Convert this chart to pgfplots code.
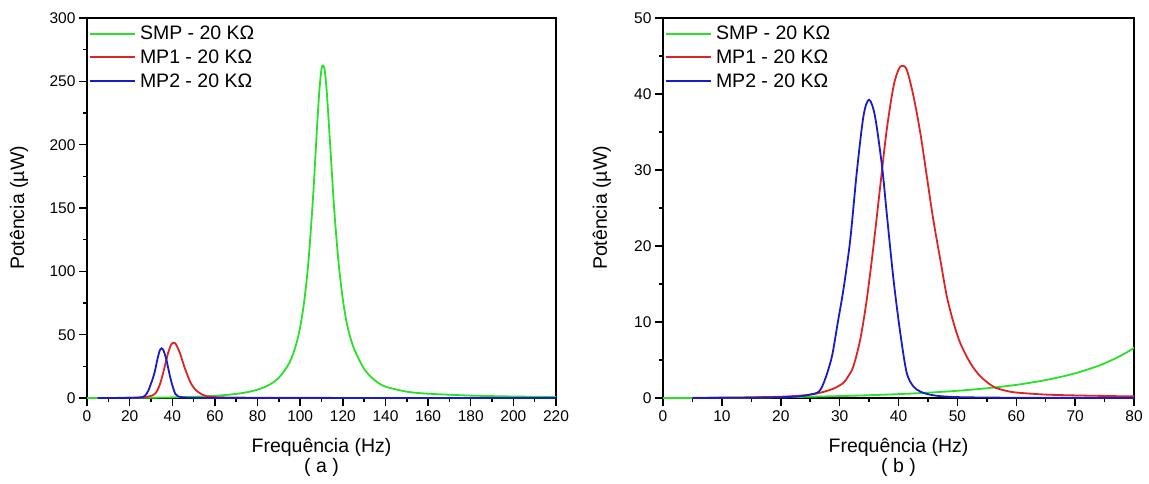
\documentclass[border=0pt]{standalone}
\usepackage{fontspec}
\setmainfont{Liberation Sans}
\usepackage{pgfplots}
\usepackage{pgfplotstable}
\pgfplotsset{compat=1.18}
\definecolor{cgreen}{RGB}{40,225,40}
\definecolor{cred}{RGB}{222,35,35}
\definecolor{cblue}{RGB}{25,25,205}

\pgfplotstableread{
f p
0 0
5 0.006
10 0.025
15 0.056
20 0.103
25 0.168
30 0.253
35 0.365
40 0.510
45 0.700
50 0.950
55 1.28
60 1.73
65 2.36
70 3.25
75 4.56
80 6.60
85 9.97
90 16.0
95 28.0
98 41.7
100 56.1
102 77.7
104 110.2
106 157.6
107 186.6
108 216.4
109 242.8
110 259.7
110.7 262.5
111.5 258.6
112.5 241
114 201.5
116 148
118 107
120 78
122 58
125 40
130 23
135 14
140 9
150 5
160 3.4
180 1.9
200 1.2
220 0.8
}\smp

\pgfplotstableread{
f p
5 0.02
10 0.05
15 0.09
20 0.17
23 0.3
25 0.45
27 0.75
29 1.25
30.65 2.0
31.5 2.9
32.35 4.2
33.5 7.7
34.6 12.9
35.75 20.0
36.9 27.9
38.0 35.3
39.15 41.0
40.0 43.2
40.57 43.7
41.4 43.2
42.55 39.7
43.7 34.9
44.8 29.2
45.9 23.5
47.1 18.2
48.2 13.4
49.35 9.9
50.5 7.2
52.2 4.6
53.9 2.85
56.1 1.5
58 1.0
60 0.72
65 0.45
70 0.34
75 0.27
80 0.22
100 0.11
150 0.04
220 0.02
}\mpone

\pgfplotstableread{
f p
5 0.005
10 0.02
15 0.04
20 0.1
23 0.2
25 0.45
26.5 0.85
27.5 2.4
28.7 5.5
29.7 10.0
30.65 14.3
31.8 20.8
32.9 29.6
34.05 37.1
35.0 39.25
36.0 37.1
37.2 30.5
38.0 24.3
39.15 15.6
40.3 8.55
41.4 3.3
42.55 1.5
43.7 0.85
45 0.5
47 0.25
50 0.12
55 0.06
60 0.04
80 0.01
220 0.0
}\mptwo

\pgfplotsset{myaxis/.style={
  scale only axis, height=380pt, anchor=south west,
  axis line style={line width=1.5pt},
  tick align=outside, tick pos=left,
  major tick length=8pt, minor tick length=4pt,
  every tick/.style={black, line width=1.5pt},
  minor x tick num=1, minor y tick num=1,
  /pgf/number format/assume math mode=true,
  scaled ticks=false,
  tick label style={font=\fontsize{15.5}{17}\selectfont},
  xticklabel style={yshift=-1.5pt},
  label style={font=\fontsize{19.5}{22}\selectfont},
  xlabel style={at={(axis description cs:0.5,-0.131)}, anchor=center},
  title style={font=\fontsize{19.5}{22}\selectfont, at={(axis description cs:0.5,-0.199)}, anchor=center},
  legend style={at={(0,1)}, anchor=north west, draw=none, fill=none,
    font=\fontsize{19.5}{22}\selectfont, inner xsep=2pt, inner ysep=7pt,
    row sep=6.5pt, column sep=3pt, nodes={inner sep=1pt}},
  legend cell align=left,
  legend image code/.code={\draw[#1] plot coordinates {(0pt,0pt) (22pt,0pt) (45pt,0pt)};},
  ylabel={Potência (µW)}, xlabel={Frequência (Hz)},
  every axis plot/.append style={line width=1.8pt, smooth, no marks},
}}

\begin{document}
\begin{tikzpicture}
\path[use as bounding box] (0,0) rectangle (1149pt,483pt);
\begin{axis}[myaxis, at={(87pt,85pt)}, width=469pt,
  xmin=0, xmax=220, ymin=0, ymax=300,
  xtick={0,20,...,220}, ytick={0,50,...,300},
  ylabel style={at={(axis description cs:-0.1450,0.5)}, anchor=center},
  title={( a )}]
\addplot[cgreen, line width=1.8pt] table[x=f,y=p]{\smp};
\addplot[cred, line width=1.8pt] table[x=f,y=p]{\mpone};
\addplot[cblue, line width=1.8pt] table[x=f,y=p]{\mptwo};
\legend{SMP - 20 KΩ, MP1 - 20 KΩ, MP2 - 20 KΩ}
\end{axis}
\begin{axis}[myaxis, at={(663pt,85pt)}, width=471pt,
  xmin=0, xmax=80, ymin=0, ymax=50,
  xtick={0,10,...,80}, ytick={0,10,...,50},
  ylabel style={at={(axis description cs:-0.130,0.5)}, anchor=center},
  title={( b )}]
\addplot[cgreen, line width=1.8pt] table[x=f,y=p]{\smp};
\addplot[cred, line width=1.8pt] table[x=f,y=p]{\mpone};
\addplot[cblue, line width=1.8pt] table[x=f,y=p]{\mptwo};
\legend{SMP - 20 KΩ, MP1 - 20 KΩ, MP2 - 20 KΩ}
\end{axis}
\end{tikzpicture}
\end{document}
